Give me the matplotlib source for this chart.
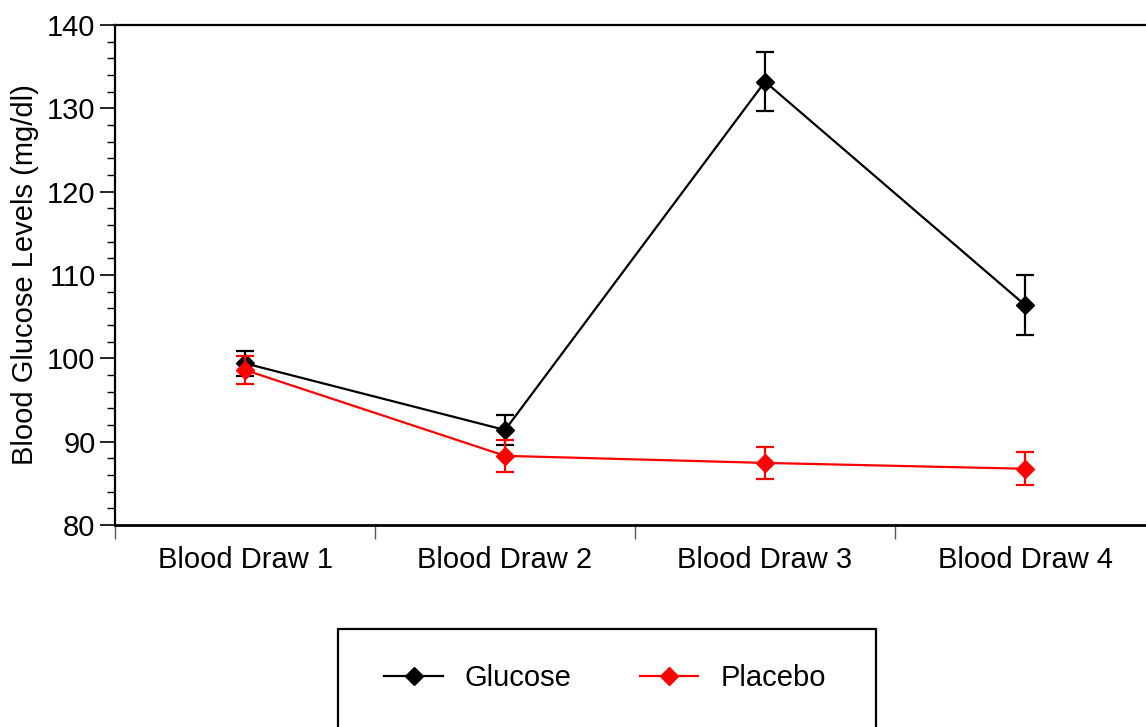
import matplotlib
matplotlib.use("Agg")
import matplotlib.pyplot as plt
from matplotlib.lines import Line2D
from matplotlib.patches import Rectangle
from matplotlib.ticker import MultipleLocator, FixedLocator, NullFormatter

categories = ["Blood Draw 1", "Blood Draw 2", "Blood Draw 3", "Blood Draw 4"]
glucose = [99.4, 91.4, 133.2, 106.4]
glucose_err = [1.5, 1.8, 3.5, 3.6]
placebo = [98.6, 88.3, 87.45, 86.75]
placebo_err = [1.7, 1.9, 1.9, 1.95]
series_names = ["Glucose", "Placebo"]
y_label = "Blood Glucose Levels (mg/dl)"

plt.rcParams['font.family'] = ['Liberation Sans', 'DejaVu Sans']
FS = 21

W, H = 1146, 727
fig = plt.figure(figsize=(W / 100, H / 100), dpi=100)
left_px, right_px, top_px, bot_px = 115, 1155, 25, 525
ax = fig.add_axes([left_px / W, (H - bot_px) / H, (right_px - left_px) / W, (bot_px - top_px) / H])

x = list(range(len(categories)))
ax.errorbar(x, glucose, yerr=glucose_err, color='black', marker='D', ms=9.5, lw=1.6,
            elinewidth=1.6, capsize=6.5, capthick=1.6, zorder=3)
ax.errorbar(x, placebo, yerr=placebo_err, color='#ff0000', marker='D', ms=9.5, lw=1.6,
            elinewidth=1.6, capsize=6.5, capthick=1.6, zorder=4)

ax.set_xlim(-0.5, len(categories) - 0.5)
ax.set_ylim(80, 140)

ax.yaxis.set_major_locator(MultipleLocator(10))
ax.yaxis.set_minor_locator(MultipleLocator(2))
ax.tick_params(axis='y', which='major', length=11, width=1.2, color='black', labelsize=FS, pad=3)
ax.tick_params(axis='y', which='minor', length=5.5, width=1.0, color='black')

ax.xaxis.set_major_locator(FixedLocator([i - 0.5 for i in range(len(categories) + 1)]))
ax.xaxis.set_major_formatter(NullFormatter())
ax.xaxis.set_minor_locator(FixedLocator(x))
ax.set_xticklabels(categories, minor=True)
ax.tick_params(axis='x', which='major', length=10, width=1.0, color='#555555')
ax.tick_params(axis='x', which='minor', length=0, labelsize=FS, pad=15)

ax.spines['right'].set_visible(False)
ax.spines['left'].set_linewidth(1.6)
ax.spines['top'].set_linewidth(1.6)
ax.spines['bottom'].set_linewidth(2.0)

ax.set_ylabel(y_label, fontsize=FS, labelpad=6)

handles = [Line2D([], [], color='black', marker='D', ms=9.5, lw=1.6),
           Line2D([], [], color='#ff0000', marker='D', ms=9.5, lw=1.6)]
fig.legend(handles, series_names, loc='center', bbox_to_anchor=(605 / W, (H - 678) / H),
           ncol=2, frameon=False, fontsize=FS, handlelength=2.0, handletextpad=0.75,
           columnspacing=2.35)
rect = Rectangle((338 / W, -20 / H), (876 - 338) / W, (20 + H - 629) / H,
                 transform=fig.transFigure, fill=False, edgecolor='black', lw=1.6,
                 clip_on=False)
fig.add_artist(rect)

fig.savefig("out.png", dpi=100)
